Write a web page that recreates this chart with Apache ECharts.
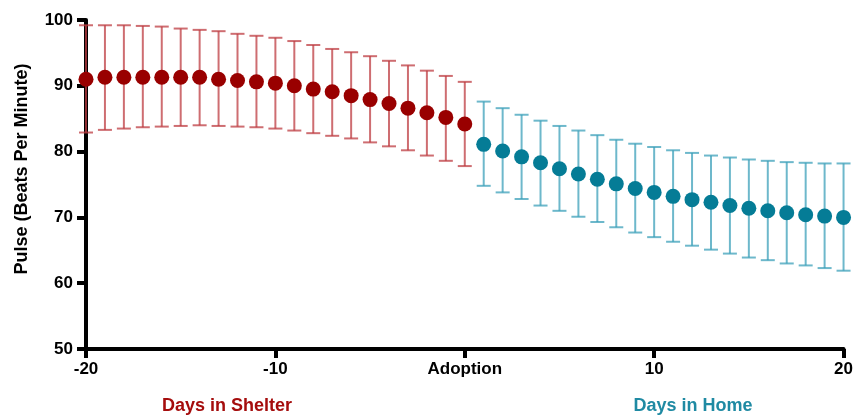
<!DOCTYPE html>
<html>
<head>
<meta charset="utf-8">
<script src="https://cdn.jsdelivr.net/npm/echarts@6/dist/echarts.min.js"></script>
<style>html,body{margin:0;padding:0;background:#fff}#c{width:856px;height:415px}</style>
</head>
<body>
<div id="c"></div>
<script>
// Shelter period (days -20 .. 0)
const shelterDays = [-20,-19,-18,-17,-16,-15,-14,-13,-12,-11,-10,-9,-8,-7,-6,-5,-4,-3,-2,-1,0];
const shelterMean = [91.0,91.3,91.3,91.3,91.3,91.3,91.3,91.0,90.8,90.6,90.4,90.0,89.5,89.1,88.5,87.9,87.3,86.6,85.9,85.2,84.2];
const shelterHigh = [99.2,99.2,99.2,99.1,99.0,98.7,98.5,98.3,97.9,97.6,97.3,96.8,96.2,95.6,95.1,94.5,93.8,93.1,92.3,91.5,90.6];
const shelterLow  = [82.9,83.3,83.5,83.7,83.8,83.9,84.0,83.9,83.8,83.7,83.5,83.2,82.8,82.4,82.0,81.4,80.8,80.2,79.4,78.6,77.8];
// Home period (days 1 .. 20)
const homeDays = [1,2,3,4,5,6,7,8,9,10,11,12,13,14,15,16,17,18,19,20];
const homeMean = [81.1,80.1,79.2,78.3,77.4,76.6,75.8,75.1,74.4,73.8,73.2,72.7,72.3,71.8,71.4,71.0,70.7,70.4,70.2,70.0];
const homeHigh = [87.6,86.6,85.6,84.7,83.9,83.2,82.5,81.8,81.2,80.7,80.2,79.8,79.4,79.1,78.8,78.6,78.4,78.3,78.2,78.2];
const homeLow  = [74.8,73.8,72.8,71.8,71.0,70.1,69.3,68.5,67.7,67.0,66.3,65.7,65.1,64.5,63.9,63.5,63.0,62.7,62.3,61.9];
const xTickLabels = {"-20":"-20","-10":"-10","0":"Adoption","10":"10","20":"20"};
const yTicks = [50,60,70,80,90,100];

const RED = '#990000', RED_BAR = 'rgba(190,60,66,0.75)';
const TEAL = '#057c96', TEAL_BAR = 'rgba(60,160,185,0.75)';

function errData(days, lo, hi){ return days.map((d,i)=>[d, lo[i], hi[i]]); }
function errSeries(data, color){
  return {
    type:'custom', data:data, z:1,
    encode:{x:0, y:[1,2]},
    renderItem:function(params, api){
      const x = api.value(0);
      const lo = api.coord([x, api.value(1)]);
      const hi = api.coord([x, api.value(2)]);
      const hw = 7;
      const st = {stroke:color, lineWidth:2, fill:null};
      return {type:'group', children:[
        {type:'line', shape:{x1:lo[0],y1:lo[1],x2:hi[0],y2:hi[1]}, style:st},
        {type:'line', shape:{x1:hi[0]-hw,y1:hi[1],x2:hi[0]+hw,y2:hi[1]}, style:st},
        {type:'line', shape:{x1:lo[0]-hw,y1:lo[1],x2:lo[0]+hw,y2:lo[1]}, style:st}
      ]};
    }
  };
}

const chart = echarts.init(document.getElementById('c'), null, {renderer:'canvas'});
const FONT = '"Liberation Sans", Arial, sans-serif';
chart.setOption({
  animation:false,
  grid:{left:86, right:9, top:20, bottom:66, containLabel:false},
  xAxis:{
    type:'value', min:-20, max:20, interval:10,
    axisLine:{show:true, onZero:false, lineStyle:{color:'#000', width:4}},
    axisTick:{show:true, length:9, lineStyle:{color:'#000', width:4}},
    splitLine:{show:false},
    axisLabel:{margin:12, color:'#000', fontWeight:'bold', fontSize:17, fontFamily:FONT,
      formatter:v=>xTickLabels[String(v)]}
  },
  yAxis:{
    type:'value', min:yTicks[0], max:yTicks[yTicks.length-1], interval:10,
    axisLine:{show:true, onZero:false, lineStyle:{color:'#000', width:4}},
    axisTick:{show:true, length:9, lineStyle:{color:'#000', width:4}},
    splitLine:{show:false},
    axisLabel:{margin:13, color:'#000', fontWeight:'bold', fontSize:17, fontFamily:FONT}
  },
  graphic:[
    {type:'text', x:22, y:169, rotation:Math.PI/2,
      style:{text:'Pulse (Beats Per Minute)', fill:'#000', font:'bold 18px '+FONT, align:'center', verticalAlign:'middle'}},
    {type:'text', x:227, y:406, style:{text:'Days in Shelter', fill:'#a50d0d', font:'bold 18px '+FONT, align:'center', verticalAlign:'middle'}},
    {type:'text', x:693, y:406, style:{text:'Days in Home', fill:'#1f8aa3', font:'bold 18px '+FONT, align:'center', verticalAlign:'middle'}}
  ],
  series:[
    errSeries(errData(shelterDays, shelterLow, shelterHigh), RED_BAR),
    errSeries(errData(homeDays, homeLow, homeHigh), TEAL_BAR),
    {type:'scatter', z:3, symbol:'circle', symbolSize:15, itemStyle:{color:RED, opacity:1},
      data:shelterDays.map((d,i)=>[d, shelterMean[i]])},
    {type:'scatter', z:3, symbol:'circle', symbolSize:15, itemStyle:{color:TEAL, opacity:1},
      data:homeDays.map((d,i)=>[d, homeMean[i]])}
  ]
});
</script>
</body>
</html>
